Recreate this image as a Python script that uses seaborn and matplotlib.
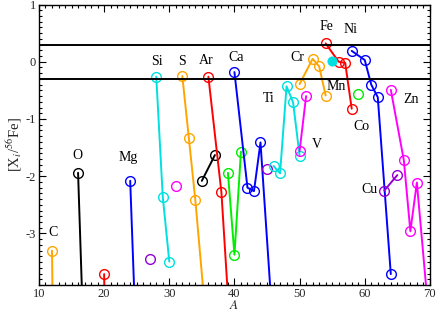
import matplotlib
matplotlib.use("Agg")
import matplotlib.pyplot as plt
from matplotlib.ticker import MultipleLocator
import pandas as pd
import seaborn as sns

# mass number A and [X_i/56Fe] per element (points below -3.9 fall off the axis)
C_A, C_Y = [12, 13], [-3.30, -13.0]
O_A, O_Y = [16, 17], [-1.94, -5.4]
NE_A, NE_Y = [20, 21], [-3.71, -12.0]
MG_A, MG_Y = [24, 25], [-2.08, -5.2]
AL_A, AL_Y = [27], [-3.44]
SI_A, SI_Y = [28, 29, 30], [-0.26, -2.36, -3.49]
P_A, P_Y = [31], [-2.17]
S_A, S_Y = [32, 33, 34, 36], [-0.25, -1.33, -2.42, -5.0]
CL_A, CL_Y = [35, 37], [-2.08, -1.63]
AR_A, AR_Y = [36, 38, 40], [-0.26, -2.28, -5.9]
K_A, K_Y = [39, 40, 41], [-1.94, -3.37, -1.57]
CA_A, CA_Y = [40, 42, 43, 44, 46], [-0.18, -2.20, -2.26, -1.41, -4.8]
SC_A, SC_Y = [45], [-1.88]
TI_A, TI_Y = [46, 47, 48, 49, 50], [-1.82, -1.95, -0.43, -0.71, -1.64]
V_A, V_Y = [50, 51], [-1.56, -0.60]
CR_A, CR_Y = [50, 52, 53, 54], [-0.39, 0.05, -0.08, -0.59]
MN_A, MN_Y = [55], [0.02]
FE_A, FE_Y = [54, 56, 57, 58], [0.32, 0.0, -0.02, -0.82]
CO_A, CO_Y = [59], [-0.57]
NI_A, NI_Y = [58, 60, 61, 62, 64], [0.19, 0.03, -0.40, -0.62, -3.71]
CU_A, CU_Y = [63, 65], [-2.25, -1.98]
ZN_A, ZN_Y = [64, 66, 67, 68, 70], [-0.49, -1.72, -2.96, -2.11, -4.67]

ORANGE = "#ffa500"
BLACK = "#000000"
RED = "#ff0000"
GREEN = "#00ee00"
BLUE = "#0000ff"
VIOLET = "#9400d3"
CYAN = "#00e0e0"
MAGENTA = "#ff00ff"

SERIES = [
    (C_A, C_Y, ORANGE), (O_A, O_Y, BLACK), (NE_A, NE_Y, RED), (MG_A, MG_Y, BLUE),
    (AL_A, AL_Y, VIOLET), (SI_A, SI_Y, CYAN), (P_A, P_Y, MAGENTA), (S_A, S_Y, ORANGE),
    (CL_A, CL_Y, BLACK), (AR_A, AR_Y, RED), (K_A, K_Y, GREEN), (CA_A, CA_Y, BLUE),
    (SC_A, SC_Y, VIOLET), (TI_A, TI_Y, CYAN), (V_A, V_Y, MAGENTA), (CR_A, CR_Y, ORANGE),
    (FE_A, FE_Y, RED), (CO_A, CO_Y, GREEN), (NI_A, NI_Y, BLUE), (CU_A, CU_Y, VIOLET),
    (ZN_A, ZN_Y, MAGENTA),
]

# element labels: text, A, y
LABELS = [
    ("C", 12.2, -2.99), ("O", 15.9, -1.64), ("Mg", 23.7, -1.67), ("Si", 28.1, 0.0),
    ("S", 31.9, 0.0), ("Ar", 35.7, 0.02), ("Ca", 40.2, 0.07), ("Ti", 45.3, -0.64),
    ("Cr", 49.7, 0.08), ("Fe", 54.2, 0.61), ("Ni", 57.8, 0.57), ("Mn", 55.6, -0.43),
    ("Co", 59.5, -1.13), ("Zn", 67.1, -0.66), ("V", 52.7, -1.44), ("Cu", 60.7, -2.23),
]

sns.set_theme(style="ticks")
plt.rcParams["font.family"] = ["Liberation Serif", "DejaVu Serif"]
plt.rcParams["mathtext.fontset"] = "stix"

fig = plt.figure(figsize=(4.36, 3.11), dpi=100)
ax = fig.add_axes([0.0894, 0.0836, 0.8966, 0.9019])

for a, y, c in SERIES:
    d = pd.DataFrame({"A": a, "y": y})
    sns.lineplot(data=d, x="A", y="y", ax=ax, color=c, lw=1.4, marker="o",
                 markersize=7, markerfacecolor="none", markeredgecolor=c,
                 markeredgewidth=1.0, clip_on=True)

sns.scatterplot(x=MN_A, y=MN_Y, ax=ax, color=CYAN, s=45, edgecolor=CYAN, zorder=5)

ax.axhline(0.3, color="black", lw=1.4)
ax.axhline(-0.3, color="black", lw=1.4)

for t, x, y in LABELS:
    ax.text(x, y, t, ha="center", va="center", fontsize=10, color="black")

ax.set_xlim(10, 70)
ax.set_ylim(-3.9, 1.0)
ax.xaxis.set_major_locator(MultipleLocator(10))
ax.xaxis.set_minor_locator(MultipleLocator(1))
ax.yaxis.set_major_locator(MultipleLocator(1))
ax.yaxis.set_minor_locator(MultipleLocator(0.1))
ax.tick_params(which="both", direction="in", top=True, right=True, labelsize=9,
               width=0.8, color="black", pad=2)
ax.tick_params(which="major", length=5)
ax.tick_params(which="minor", length=2.5)
ax.set_yticks([-3, -2, -1, 0, 1])
ax.set_yticklabels(["-3", "-2", "-1", "0", "1"])
for s in ax.spines.values():
    s.set_color("black")
    s.set_linewidth(1.0)

ax.set_xlabel(r"$A$", fontsize=9.5)
ax.xaxis.label.set_va("center")
ax.xaxis.set_label_coords(0.5, -0.074)
ax.set_ylabel(r"[X$_i$/$^{56}$Fe]", fontsize=10.5, labelpad=1)
ax.grid(False)

fig.savefig("out.png", dpi=100)
